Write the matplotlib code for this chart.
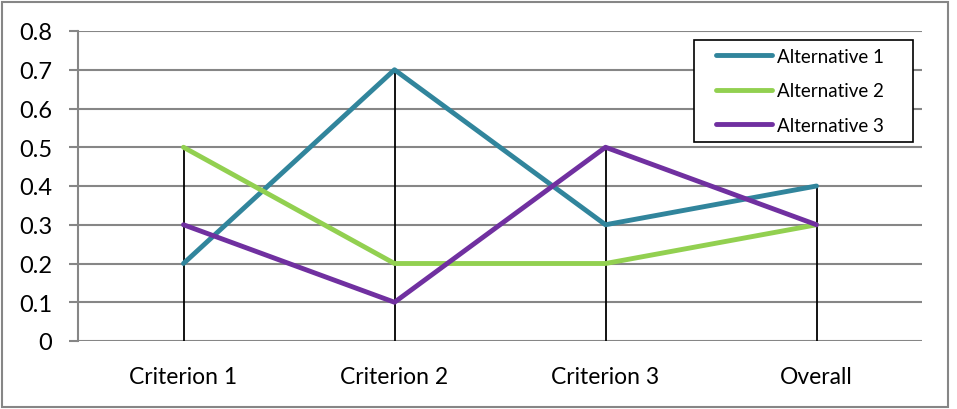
import matplotlib.pyplot as plt
from matplotlib.patches import Rectangle

categories = ["Criterion 1", "Criterion 2", "Criterion 3", "Overall"]
alt1 = [0.2, 0.7, 0.3, 0.4]
alt2 = [0.5, 0.2, 0.2, 0.3]
alt3 = [0.3, 0.1, 0.5, 0.3]
series_names = ["Alternative 1", "Alternative 2", "Alternative 3"]
colors = ["#31859C", "#92D050", "#7030A0"]

plt.rcParams['font.family'] = ['Lato', 'DejaVu Sans']

fig = plt.figure(figsize=(9.57, 4.10), dpi=100)
ax = fig.add_axes([78 / 957, 68 / 410, 844 / 957, 310 / 410])

x = [i + 0.5 for i in range(len(categories))]

# gridlines
for v in [0.1 * k for k in range(9)]:
    ax.axhline(v, color="#868686", lw=1.5, zorder=1)

# drop lines from highest point down to the axis
tops = [max(a, b, c) for a, b, c in zip(alt1, alt2, alt3)]
ax.vlines(x, 0, tops, color="black", lw=1.3, zorder=2)

for vals, name, col in zip([alt1, alt2, alt3], series_names, colors):
    ax.plot(x, vals, color=col, lw=3.5, label=name, zorder=3, solid_capstyle='round')

ax.set_xlim(0, len(categories))
ax.set_ylim(0, 0.8)
ax.set_yticks([0.1 * k for k in range(9)])
ax.set_yticklabels(["0"] + [f"{0.1 * k:.1f}" for k in range(1, 9)], fontsize=17)
ax.set_xticks(x)
ax.set_xticklabels(categories, fontsize=16.5)
ax.tick_params(axis='x', length=0, pad=18)
ax.tick_params(axis='y', length=6.5, width=1.5, color="#868686", pad=12)

for s in ["top", "right", "bottom"]:
    ax.spines[s].set_visible(False)
ax.spines["left"].set_color("#868686")
ax.spines["left"].set_linewidth(1.5)

# legend box drawn separately so its padding matches
fig.patches.append(Rectangle((694 / 957, 1 - 143 / 410), 219 / 957, 102 / 410, transform=fig.transFigure,
                             facecolor="white", edgecolor="black", lw=1.2, zorder=5))
leg = ax.legend(loc="upper left", bbox_to_anchor=(716 / 957, 1 - 49 / 410), bbox_transform=fig.transFigure,
                fontsize=13.5, frameon=False, handlelength=3.0, handletextpad=0.25,
                borderpad=0, labelspacing=0.92, borderaxespad=0)
leg.set_zorder(6)
leg.remove()
fig.add_artist(leg)

fig.patches.append(Rectangle((2 / 957, 2 / 410), 946 / 957, 405 / 410, transform=fig.transFigure,
                             fill=False, edgecolor="#868686", lw=1.5))

fig.savefig("out.png", dpi=100)
